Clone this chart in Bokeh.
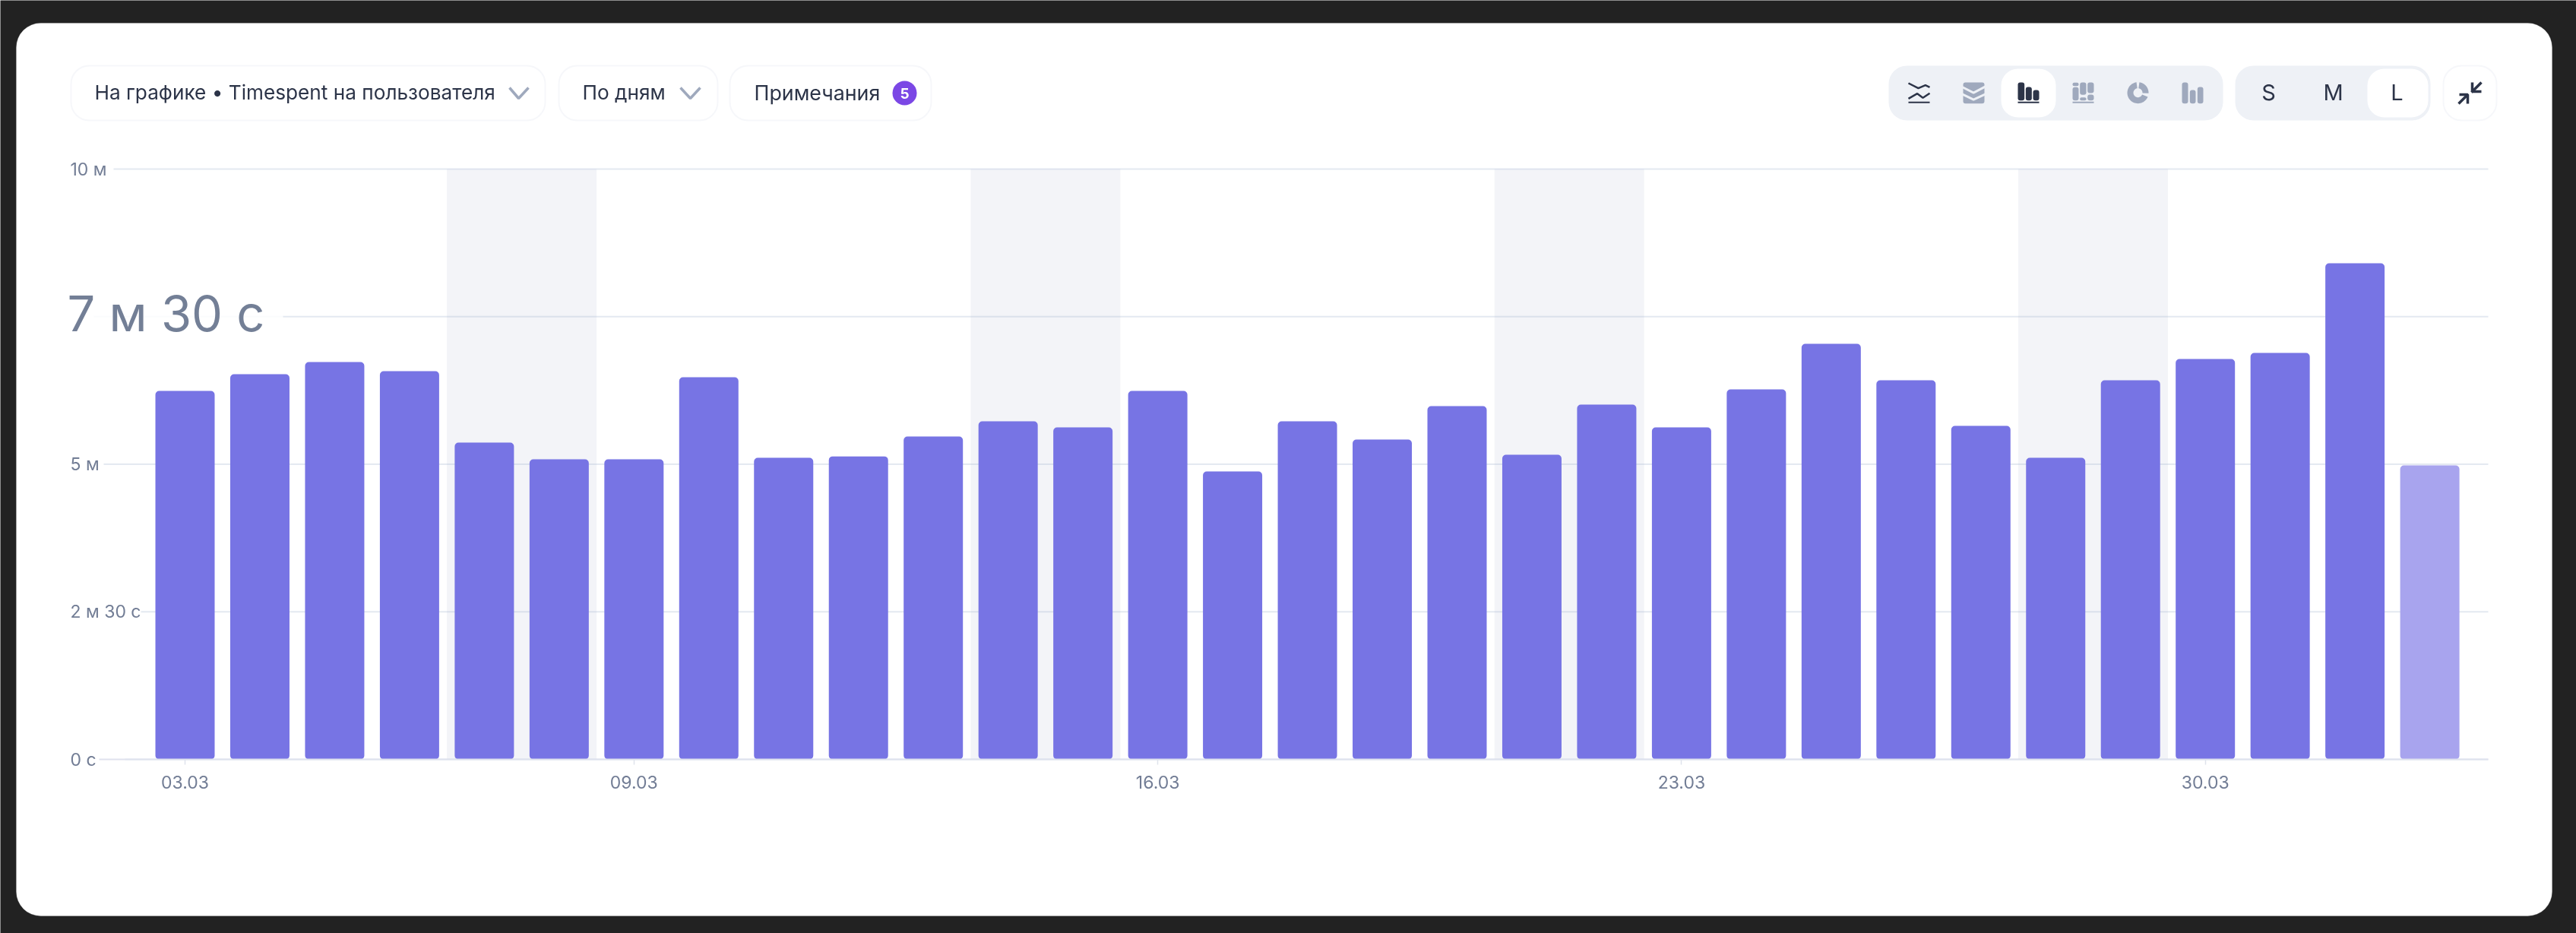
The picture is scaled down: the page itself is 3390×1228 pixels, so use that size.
import numpy as np

from bokeh.core.properties import value
from bokeh.embed import file_html
from bokeh.models import (BoxAnnotation, ColumnDataSource, FixedTicker, Label, LabelSet,
                          LinearAxis, PolyAnnotation)
from bokeh.plotting import figure
from bokeh.resources import INLINE

# дни: 03.03 .. 02.04
days = ["03.03", "04.03", "05.03", "06.03", "07.03", "08.03", "09.03", "10.03",
        "11.03", "12.03", "13.03", "14.03", "15.03", "16.03", "17.03", "18.03",
        "19.03", "20.03", "21.03", "22.03", "23.03", "24.03", "25.03", "26.03",
        "27.03", "28.03", "29.03", "30.03", "31.03", "01.04", "02.04"]
# timespent, секунды
timespent = [374.5, 391.5, 403.9, 394.6, 322.0, 305.0, 305.0, 388.4, 306.6, 308.0,
             328.2, 343.6, 337.5, 374.5, 292.7, 343.6, 325.1, 359.1, 309.7, 360.6,
             337.5, 376.1, 422.4, 385.3, 339.0, 306.6, 385.3, 407.0, 413.1, 504.3]
timespent_partial = [298.8]
weekend_mid = [4.5, 11.5, 18.5, 25.5]
x_tick_days = [0, 6, 13, 20, 27]
y_ticks = [0, 150, 300, 450, 600]
y_labels = ["0 с", "2 м 30 с", "5 м", "7 м 30 с", "10 м"]

FONT = "Inter"
DARK = "#2c3448"
GREY = "#9fa9bd"
PILL = "#eef1f6"
EDGE = "#e0e3ef"
TICK = "#727d95"
W, H = 3390, 1228


# пиксели страницы -> данные
def px_x(v):
    return (v - 243) / 98.47


def px_y(v):
    return (999 - v) * 600 / 777


p = figure(width=W, height=H, output_backend="svg", toolbar_location=None,
           x_range=(px_x(0), px_x(W)), y_range=(px_y(H), px_y(0)),
           x_axis_location=None, y_axis_location=None,
           min_border=0, background_fill_color="#222222", border_fill_color="#222222",
           outline_line_color=None,
           styles={"position": "fixed", "left": "0px", "top": "0px"})
p.grid.visible = False


def box(l, r, t, b, color, radius=0, line=None, width=0, level="annotation"):
    a = BoxAnnotation(left=l, right=r, top=t, bottom=b,
                      left_units="canvas", right_units="canvas",
                      top_units="canvas", bottom_units="canvas",
                      fill_color=color, fill_alpha=1, line_color=line, line_width=width,
                      border_radius=radius, level=level)
    p.add_layout(a)


def text(x, y, s, size, color=DARK, align="left", style="normal"):
    p.add_layout(Label(x=x, y=y, x_units="canvas", y_units="canvas", text=s,
                       text_font=FONT, text_font_size=f"{size}px", text_color=color,
                       text_align=align, text_baseline="middle", text_font_style=style))


def stroke(pts, color, width):
    xs = [q[0] for q in pts] + [q[0] for q in pts[::-1]]
    ys = [q[1] for q in pts] + [q[1] for q in pts[::-1]]
    p.add_layout(PolyAnnotation(xs=xs, ys=ys, xs_units="canvas", ys_units="canvas",
                                fill_alpha=0, line_color=color, line_width=width,
                                line_alpha=1))


def poly(xs, ys, color):
    p.add_layout(PolyAnnotation(xs=list(xs), ys=list(ys), xs_units="canvas", ys_units="canvas",
                                fill_color=color, fill_alpha=1, line_color=None))


def icon(pts):
    # координаты из кропа 3x тулбара
    return [(2480 + a / 3, 80 + b / 3) for a, b in pts]


def icon_bar(a0, a1, b0, b1, color, r=3):
    box(2480 + a0 / 3, 2480 + a1 / 3, 80 + b0 / 3, 80 + b1 / 3, color, radius=r)


# карточка
box(21, 3358, 30, 1205, "#ffffff", radius=32, line="#d8d8d8", width=1, level="image")

# выходные
p.vbar(x=weekend_mid, top=600, width=2, color="#f3f4f8", line_color=None, level="underlay")

# сетка: линии начинаются после подписей
grid_start = [px_x(164), px_x(185), px_x(136), px_x(372), px_x(149)]
p.segment(x0=grid_start, x1=px_x(3274), y0=y_ticks, y1=y_ticks, line_color="#93a6c7",
          line_alpha=0.25, line_width=2, level="underlay")
p.segment(x0=px_x(123), x1=px_x(372), y0=y_ticks[3], y1=y_ticks[3], line_color="#93a6c7",
          line_alpha=0.04, line_width=2, level="underlay")

p.vbar(x=list(range(len(timespent))), top=timespent, width=0.792, color="#7774e4",
       line_color=None, border_radius=5)
p.vbar(x=[len(timespent)], top=timespent_partial, width=0.792, color="#a8a4ee",
       line_color=None, border_radius=5)

xa = LinearAxis(fixed_location=0, bounds=(px_x(130), px_x(3274)))
xa.ticker = FixedTicker(ticks=x_tick_days)
xa.major_label_overrides = {i: days[i] for i in x_tick_days}
xa.axis_line_color = "#dfe2ee"
xa.axis_line_width = 2
xa.major_tick_in = 0
xa.major_tick_out = 7
xa.major_tick_line_color = "#dfe3ec"
xa.major_tick_line_width = 1.5
xa.minor_tick_line_color = None
xa.major_label_standoff = 14
xa.major_label_text_font = FONT
xa.major_label_text_font_size = "23px"
xa.major_label_text_color = TICK
p.add_layout(xa, "below")

# подписи оси Y выровнены влево
small = [i for i in range(len(y_ticks)) if i != 3]
src = ColumnDataSource(dict(x=[px_x(92)] * len(small), y=[y_ticks[i] for i in small],
                            text=[y_labels[i] for i in small]))
p.add_layout(LabelSet(x="x", y="y", text="text", source=src, text_font=value(FONT),
                      text_font_size="23px", text_color=TICK, text_align="left",
                      text_baseline="middle"))

# подпись под курсором
p.add_layout(Label(x=px_x(88), y=y_ticks[3], y_offset=4, text=y_labels[3],
                   text_font=FONT, text_font_size="65px", text_color="#6b7890",
                   text_alpha=0.95, text_align="left", text_baseline="middle"))

# левые кнопки
box(93, 717, 86, 158, "#ffffff", radius=24, line=EDGE, width=2)
box(735, 944, 86, 158, "#ffffff", radius=24, line=EDGE, width=2)
box(960, 1225, 86, 158, "#ffffff", radius=24, line=EDGE, width=2)
text(124, 121, "На графике • Timespent на пользователя", 26.2)
text(766, 121, "По дням", 26.2)
text(992, 121, "Примечания", 26.8)
stroke([(670, 115), (682, 129), (695, 115)], GREY, 3.5)
stroke([(895, 115), (908, 129), (921, 115)], GREY, 3.5)
box(1174, 1206, 106, 138, "#7b47e5", radius=16)
text(1190, 122, "5", 19, color="#ffffff", align="center", style="bold")

# переключатель графиков
box(2485, 2925, 86, 158, PILL, radius=24)
box(2633, 2705, 90, 154, "#ffffff", radius=22)

stroke(icon([(93, 87), (132, 107), (160, 95), (177, 103)]), DARK, 2.5)
stroke(icon([(93, 148), (128, 128), (150, 145), (177, 127)]), DARK, 2.5)
stroke(icon([(93, 163), (177, 163)]), DARK, 2)

icon_bar(309, 393, 84, 167, GREY)
stroke(icon([(305, 102), (350, 125), (397, 100)]), PILL, 3)
stroke(icon([(305, 130), (350, 152), (397, 130)]), PILL, 3)

icon_bar(525, 551, 84, 155, DARK)
icon_bar(556, 580, 102, 155, DARK)
icon_bar(585, 609, 114, 155, DARK)
stroke(icon([(525, 163), (609, 163)]), DARK, 2)

icon_bar(741, 765, 85, 98, GREY, r=2)
icon_bar(741, 765, 103, 155, GREY)
icon_bar(770, 795, 84, 133, GREY)
icon_bar(770, 795, 143, 155, GREY, r=2)
icon_bar(800, 825, 84, 126, GREY)
icon_bar(800, 825, 132, 155, GREY)
stroke(icon([(741, 163), (825, 163)]), GREY, 2)

for a0, a1 in [(8, 92), (112, 352)]:
    th = np.radians(np.linspace(a0, a1, 40))
    cx, cy = 2480 + 999 / 3, 80 + 125 / 3
    xs = np.concatenate([cx + 14 * np.sin(th), cx + 6 * np.sin(th[::-1])])
    ys = np.concatenate([cy - 14 * np.cos(th), cy - 6 * np.cos(th[::-1])])
    poly(xs.tolist(), ys.tolist(), GREY)

icon_bar(1173, 1197, 84, 167, GREY)
icon_bar(1204, 1227, 114, 167, GREY)
icon_bar(1234, 1257, 102, 167, GREY)

# размер
box(2941, 3198, 86, 158, PILL, radius=24)
box(3115, 3195, 90, 154, "#ffffff", radius=22)
text(2985, 121, "S", 29, align="center")
text(3070, 121, "M", 29, align="center")
text(3154, 121, "L", 29, align="center")

# свернуть
box(3215, 3285, 86, 158, "#ffffff", radius=24, line=EDGE, width=2)
stroke([(3252, 121), (3265, 108)], DARK, 3.5)
stroke([(3253, 108), (3253, 120), (3265, 120)], DARK, 3.5)
stroke([(3235, 136), (3247, 124)], DARK, 3.5)
stroke([(3236, 124), (3247, 124), (3247, 136)], DARK, 3.5)

open("out.html", "w").write(file_html(p, INLINE))
